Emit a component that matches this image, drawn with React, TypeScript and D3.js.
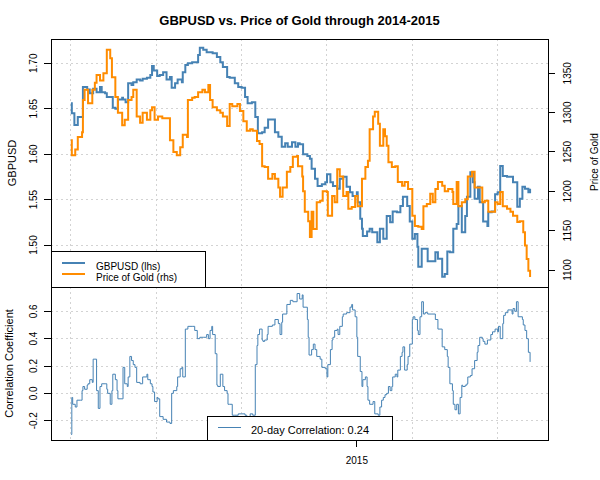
import React from 'react';
import * as d3 from 'd3';

// day offsets are calendar days counted from 2014-01-31
const startDate = Date.UTC(2014, 0, 31);
const toDate = (d: number) => new Date(startDate + d * 864e5);

const gbpDays = [0,1,4,7,8,13,14,16,19,22,26,30,34,36,40,42,46,49,52,55,60,61,64,67,71,73,77,81,84,89,93,95,97,101,104,108,112,116,118,122,125,130,131,134,137,142,145,149,151,155,159,163,166,171,175,178,183,186,190,192,196,200,204,207,212,216,219,224,227,231,236,239,243,247,251,254,259,263,266,268,272,277,280,282,286,289,294,298,300,304,307,312,315,319,323,327,330,335,336,339,341,342,347,350,353,356,359,362,366,368,370,374,377,382,386,389,394,397,400,403,406,407,411,415,418,423,427,430,435,438,441,444,448,452,454,458,462,464,468,471,473,477,479,483,488,489,493,497,500,503,506,511,515,518,523,526,529,532,536,538];
const gbpValues = [1.656,1.645,1.632,1.632,1.641,1.641,1.674,1.674,1.671,1.667,1.672,1.668,1.674,1.668,1.667,1.663,1.663,1.651,1.650,1.660,1.662,1.660,1.657,1.678,1.676,1.679,1.682,1.681,1.683,1.684,1.687,1.697,1.692,1.686,1.687,1.690,1.682,1.685,1.673,1.678,1.682,1.679,1.690,1.698,1.700,1.701,1.701,1.709,1.717,1.715,1.712,1.712,1.711,1.707,1.701,1.696,1.685,1.684,1.684,1.678,1.674,1.673,1.663,1.656,1.657,1.641,1.623,1.624,1.629,1.638,1.638,1.624,1.619,1.608,1.612,1.608,1.613,1.608,1.612,1.611,1.600,1.598,1.595,1.584,1.573,1.565,1.567,1.569,1.578,1.569,1.565,1.562,1.573,1.575,1.564,1.558,1.554,1.558,1.547,1.529,1.518,1.510,1.515,1.518,1.514,1.514,1.503,1.518,1.507,1.507,1.532,1.525,1.537,1.536,1.543,1.553,1.543,1.526,1.507,1.512,1.498,1.476,1.496,1.496,1.482,1.482,1.492,1.485,1.465,1.468,1.493,1.492,1.518,1.523,1.543,1.514,1.532,1.553,1.580,1.569,1.551,1.564,1.547,1.526,1.521,1.536,1.537,1.556,1.558,1.587,1.576,1.575,1.575,1.569,1.542,1.551,1.564,1.562,1.558,1.562];

const goldDays = [0,1,5,8,13,14,16,20,25,28,30,34,38,42,46,48,52,55,60,63,67,71,73,77,81,84,89,93,95,98,102,107,110,114,116,120,124,128,131,136,137,142,145,149,154,157,161,163,166,171,175,178,183,186,189,195,198,202,206,210,213,218,221,224,227,231,236,239,243,245,248,253,257,260,265,266,271,272,274,278,280,282,284,288,292,295,300,301,306,309,312,315,319,323,325,329,333,336,341,345,348,350,354,356,360,362,366,368,370,372,376,380,383,388,391,395,400,403,407,411,413,417,421,424,427,430,435,438,442,447,448,452,454,458,462,465,470,473,477,482,485,489,493,497,500,503,506,511,515,518,523,526,530,532,534,536,538];
const goldValues = [1265,1246,1253,1269,1275,1316,1329,1312,1329,1338,1348,1341,1350,1380,1369,1345,1320,1300,1284,1291,1316,1320,1329,1295,1287,1300,1291,1303,1307,1291,1295,1293,1293,1293,1265,1250,1246,1256,1272,1269,1316,1319,1320,1326,1329,1326,1335,1316,1307,1303,1300,1295,1283,1311,1308,1311,1302,1289,1277,1279,1277,1264,1260,1232,1231,1216,1222,1216,1205,1193,1205,1225,1231,1244,1245,1232,1219,1200,1174,1162,1142,1174,1152,1186,1188,1200,1199,1169,1194,1186,1228,1219,1194,1199,1178,1180,1194,1181,1216,1231,1239,1279,1295,1301,1286,1258,1279,1270,1258,1237,1231,1232,1212,1207,1212,1203,1169,1156,1155,1152,1181,1184,1197,1186,1203,1212,1207,1200,1203,1199,1184,1212,1181,1186,1190,1219,1225,1205,1205,1186,1188,1174,1174,1186,1184,1199,1181,1178,1174,1169,1161,1162,1148,1131,1114,1099,1091];

const corrDays = [0,1,2,5,7,11,13,14,16,19,20,22,25,26,28,30,32,34,36,40,42,43,46,48,49,52,54,55,60,61,63,66,67,69,71,73,75,77,81,84,89,90,93,95,96,98,101,102,104,108,112,116,118,120,124,125,128,130,131,134,137,142,145,148,151,155,159,161,163,165,166,169,171,172,175,177,178,180,183,184,186,189,192,196,200,204,206,210,213,216,218,219,221,224,225,227,230,231,236,239,243,245,247,248,253,257,260,265,268,271,272,277,278,279,282,284,286,288,292,294,298,300,301,304,306,307,309,312,313,315,318,319,323,327,329,330,333,335,336,339,341,342,345,347,348,350,354,356,360,362,364,366,368,370,372,374,376,377,380,382,383,386,388,389,391,394,395,397,400,401,403,406,407,409,411,413,415,418,423,427,430,435,438,441,442,444,447,448,450,452,454,456,458,459,462,464,465,468,470,473,476,477,479,482,483,485,488,489,492,494,497,500,501,503,506,507,509,512,517,518,520,522,524,529,530,532,534,536,538];
const corrValues = [-0.30,-0.03,-0.08,-0.10,-0.05,-0.05,0.02,0.05,0.03,0.06,0.07,0.10,0.08,0.25,0.25,0.02,-0.11,0.05,0.07,0.07,0.03,0.00,-0.08,0.02,0.14,0.10,0.02,-0.04,-0.04,0.19,0.07,0.05,0.12,0.27,0.24,0.21,0.19,0.08,0.07,0.12,0.14,0.10,0.07,0.05,0.01,-0.06,-0.03,-0.04,-0.17,-0.19,-0.21,-0.22,0.00,0.02,0.05,0.12,0.18,0.19,0.12,0.47,0.49,0.49,0.46,0.40,0.41,0.41,0.43,0.40,0.46,0.49,0.43,0.29,0.06,0.05,0.14,0.14,0.05,0.02,0.00,-0.08,-0.08,-0.16,-0.16,-0.15,-0.15,-0.16,-0.17,-0.15,-0.16,0.21,0.35,0.43,0.47,0.39,0.38,0.39,0.43,0.49,0.50,0.54,0.51,0.43,0.52,0.58,0.65,0.68,0.67,0.73,0.69,0.72,0.63,0.54,0.41,0.28,0.32,0.36,0.32,0.27,0.25,0.19,0.18,0.12,0.21,0.32,0.39,0.41,0.46,0.47,0.43,0.49,0.56,0.58,0.59,0.63,0.65,0.61,0.56,0.41,0.27,0.16,0.05,0.10,0.12,0.05,-0.05,-0.08,-0.06,-0.15,-0.16,-0.10,-0.05,-0.03,-0.01,0.00,0.05,0.02,0.05,0.12,0.14,0.12,0.17,0.27,0.30,0.34,0.17,0.21,0.27,0.36,0.54,0.56,0.54,0.46,0.43,0.56,0.67,0.58,0.59,0.58,0.58,0.54,0.47,0.34,0.32,0.27,0.19,0.07,0.02,-0.08,-0.12,-0.08,-0.15,-0.03,0.06,0.05,0.06,0.07,0.12,0.13,0.18,0.24,0.30,0.35,0.41,0.40,0.38,0.36,0.39,0.39,0.43,0.45,0.47,0.45,0.49,0.40,0.51,0.57,0.59,0.61,0.58,0.62,0.60,0.67,0.56,0.54,0.50,0.46,0.40,0.30,0.23];

const gbpTicks = [1.5, 1.55, 1.6, 1.65, 1.7];
const goldTicks = [1100, 1150, 1200, 1250, 1300, 1350];
const corrTicks = [-0.2, 0, 0.2, 0.4, 0.6];
const gridDays = [0, 100, 200, 300, 400, 500];
const yearTicks = [{ date: new Date(Date.UTC(2015, 0, 1)), label: '2015' }];
const topLegend = [
  { label: 'GBPUSD (lhs)', color: '#4682b4' },
  { label: 'Price of Gold (rhs)', color: '#ff8c00' },
];
const lastCorr = 0.24;

const FONT = "'Liberation Sans', Arial, sans-serif";
const GRID = '#d3d3d3';

type Pt = { date: Date; v: number };

const zip = (days: number[], vals: number[]): Pt[] =>
  d3.range(Math.min(days.length, vals.length)).map(i => ({ date: toDate(days[i]), v: vals[i] }));

const App: React.FC = () => {
  const left = 51, right = 548;
  const topY0 = 39, topY1 = 287;
  const botY0 = 287, botY1 = 440;

  const x = d3.scaleUtc().domain([toDate(-23.4), toDate(559)]).range([left, right]);
  const yGbp = d3.scaleLinear().domain([1.4538, 1.7267]).range([topY1, topY0]);
  const yGold = d3.scaleLinear().domain([1078.4, 1393.6]).range([topY1, topY0]);
  const yCorr = d3.scaleLinear().domain([-0.3411, 0.7777]).range([botY1, botY0]);

  const gbp = zip(gbpDays, gbpValues);
  const gold = zip(goldDays, goldValues);
  const corr = zip(corrDays, corrValues);

  // daily series look stair-stepped at this resolution
  const gbpLine = d3.line<Pt>().x(d => x(d.date)).y(d => yGbp(d.v)).curve(d3.curveStepAfter);
  const goldLine = d3.line<Pt>().x(d => x(d.date)).y(d => yGold(d.v)).curve(d3.curveStepAfter);
  const corrLine = d3.line<Pt>().x(d => x(d.date)).y(d => yCorr(d.v)).curve(d3.curveStepAfter);

  const vGrid = (y0: number, y1: number) =>
    gridDays.map(d => (
      <line key={'vg' + d} x1={x(toDate(d))} x2={x(toDate(d))} y1={y0} y2={y1}
        stroke={GRID} strokeDasharray="2,3" shapeRendering="crispEdges" />
    ));

  const rotLabel = (key: string, cx: number, cy: number, text: string, size: number) => (
    <text key={key} transform={`translate(${cx},${cy}) rotate(-90)`} textAnchor="middle"
      dominantBaseline="central" fontSize={size}>{text}</text>
  );

  return (
    <svg width={600} height={480} style={{ position: 'absolute', left: 0, top: 0, background: '#fff' }}
      fontFamily={FONT}>
      <text x={(left + right) / 2} y={25} textAnchor="middle" fontWeight="bold" fontSize={13}>
        GBPUSD vs. Price of Gold through 2014-2015
      </text>

      {/* top panel */}
      {vGrid(topY0, topY1)}
      {gbpTicks.map(t => (
        <line key={'hg' + t} x1={left} x2={right} y1={yGbp(t)} y2={yGbp(t)}
          stroke={GRID} strokeDasharray="2,3" shapeRendering="crispEdges" />
      ))}
      <path d={gbpLine(gbp) || ''} fill="none" stroke="#4682b4" strokeWidth={2} />
      <path d={goldLine(gold) || ''} fill="none" stroke="#ff8c00" strokeWidth={2} />

      <rect x={left} y={251} width={154} height={topY1 - 251} fill="#fff" stroke="#000" shapeRendering="crispEdges" />
      {topLegend.map((e, i) => (
        <g key={e.label}>
          <line x1={62} x2={85} y1={263 + i * 11} y2={263 + i * 11} stroke={e.color} strokeWidth={2} />
          <text x={96} y={266 + i * 11} dominantBaseline="central" fontSize={10}>{e.label}</text>
        </g>
      ))}
      <rect x={left} y={topY0} width={right - left} height={topY1 - topY0} fill="none" stroke="#000"
        shapeRendering="crispEdges" />

      {gbpTicks.map(t => (
        <g key={'lt' + t}>
          <line x1={left - 7} x2={left} y1={yGbp(t)} y2={yGbp(t)} stroke="#000" shapeRendering="crispEdges" />
          {rotLabel('ll' + t, 33, yGbp(t), t.toFixed(2), 10)}
        </g>
      ))}
      {goldTicks.map(t => (
        <g key={'rt' + t}>
          <line x1={right} x2={right + 7} y1={yGold(t)} y2={yGold(t)} stroke="#000" shapeRendering="crispEdges" />
          {rotLabel('rl' + t, 567, yGold(t), String(t), 10)}
        </g>
      ))}
      {rotLabel('ytl', 12, (topY0 + topY1) / 2, 'GBPUSD', 11)}
      {rotLabel('ytr', 594, 162, 'Price of Gold', 10)}

      {/* bottom panel */}
      {vGrid(botY0, botY1)}
      {corrTicks.map(t => (
        <line key={'cg' + t} x1={left} x2={right} y1={yCorr(t)} y2={yCorr(t)}
          stroke={GRID} strokeDasharray="2,3" shapeRendering="crispEdges" />
      ))}
      <path d={corrLine(corr) || ''} fill="none" stroke="#4682b4" strokeWidth={1} />

      <rect x={207} y={416} width={185} height={botY1 - 416} fill="#fff" stroke="#000" shapeRendering="crispEdges" />
      <line x1={218} x2={241} y1={427.5} y2={427.5} stroke="#4682b4" strokeWidth={1} />
      <text x={251} y={429.5} dominantBaseline="central" fontSize={11}>
        {`20-day Correlation: ${lastCorr.toFixed(2)}`}
      </text>
      <rect x={left} y={botY0} width={right - left} height={botY1 - botY0} fill="none" stroke="#000"
        shapeRendering="crispEdges" />

      {corrTicks.map(t => (
        <g key={'ct' + t}>
          <line x1={left - 7} x2={left} y1={yCorr(t)} y2={yCorr(t)} stroke="#000" shapeRendering="crispEdges" />
          {rotLabel('cl' + t, 33, yCorr(t), t.toFixed(1), 10)}
        </g>
      ))}
      {rotLabel('ctl', 9, (botY0 + botY1) / 2, 'Correlation Coefficient', 11)}

      {yearTicks.map(t => (
        <g key={t.label}>
          <line x1={x(t.date)} x2={x(t.date)} y1={botY1} y2={botY1 + 7} stroke="#000" shapeRendering="crispEdges" />
          <text x={x(t.date)} y={460} textAnchor="middle" dominantBaseline="central" fontSize={10}>{t.label}</text>
        </g>
      ))}
    </svg>
  );
};

export default App;
